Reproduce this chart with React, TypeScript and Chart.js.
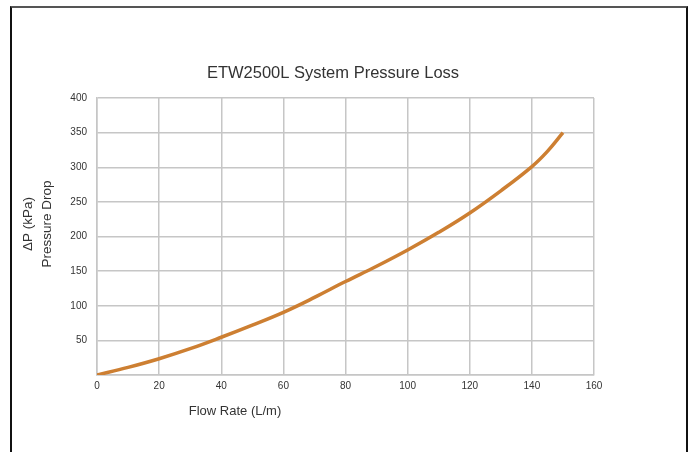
import React, { useEffect, useRef } from "react";
import { Chart, registerables } from "chart.js";

Chart.register(...registerables);

const flowRates = [0, 10, 20, 30, 40, 50, 60, 70, 80, 90, 100, 110, 120, 130, 140, 145, 150];
const pressureDrop = [0, 11, 23.5, 38, 54.5, 72, 90.5, 112, 135, 157, 180.5, 206, 234, 266, 301, 323, 350];
const xTicks = [0, 20, 40, 60, 80, 100, 120, 140, 160];
const yTicks = [0, 50, 100, 150, 200, 250, 300, 350, 400];

const chartTitle = "ETW2500L System Pressure Loss";
const yTitleLines = ["ΔP (kPa)", "Pressure Drop"];
const xTitle = "Flow Rate (L/m)";

const FONT = "'Liberation Sans', Arial, Helvetica, sans-serif";

const textPlugin = {
  id: "customText",
  afterDraw(chart: any) {
    const { ctx, chartArea } = chart;
    ctx.save();
    ctx.fillStyle = "#333";
    ctx.textAlign = "center";
    ctx.textBaseline = "middle";
    // title
    ctx.font = `16.5px ${FONT}`;
    ctx.fillText(chartTitle, chartArea.left + 236, chartArea.top - 25);
    // x title
    ctx.font = `13px ${FONT}`;
    ctx.fillText(xTitle, chartArea.left + 138, chartArea.bottom + 36);
    // y titles (rotated)
    const cy = chartArea.top + 126;
    ctx.font = `13.5px ${FONT}`;
    const xs = [chartArea.left - 69, chartArea.left - 50];
    yTitleLines.forEach((t, i) => {
      ctx.save();
      ctx.translate(xs[i], cy);
      ctx.rotate(-Math.PI / 2);
      ctx.fillText(t, 0, 0);
      ctx.restore();
    });
    ctx.restore();
  },
};

export default function App() {
  const ref = useRef<HTMLCanvasElement | null>(null);
  useEffect(() => {
    if (!ref.current) return;
    const chart = new Chart(ref.current, {
      type: "line",
      data: {
        datasets: [
          {
            data: flowRates.map((x, i) => ({ x, y: pressureDrop[i] })),
            borderColor: "rgb(205,127,50)",
            borderWidth: 3.5,
            pointRadius: 0,
            tension: 0.4,
            fill: false,
          },
        ],
      },
      options: {
        animation: false,
        responsive: false,
        layout: { padding: { left: 0, right: 98, top: 98, bottom: 0 } },
        plugins: { legend: { display: false }, tooltip: { enabled: false }, title: { display: false } },
        scales: {
          x: {
            type: "linear",
            min: 0,
            max: 160,
            afterBuildTicks: (s: any) => {
              s.ticks = xTicks.map((v) => ({ value: v }));
            },
            afterFit: (s: any) => {
              s.height = 77;
            },
            ticks: { color: "#333", font: { size: 10, family: FONT }, padding: 5, maxRotation: 0 },
            grid: { color: "#c6c6c6", lineWidth: 1.5, drawTicks: false },
            border: { color: "#c6c6c6", width: 1.5 },
          },
          y: {
            type: "linear",
            min: 0,
            max: 400,
            afterBuildTicks: (s: any) => {
              s.ticks = yTicks.map((v) => ({ value: v }));
            },
            afterFit: (s: any) => {
              s.width = 97;
            },
            ticks: {
              color: "#333",
              font: { size: 10, family: FONT },
              padding: 10,
              callback: (v: any) => (v === 0 ? "" : String(v)),
            },
            grid: { color: "#c6c6c6", lineWidth: 1.5, drawTicks: false },
            border: { color: "#c6c6c6", width: 1.5 },
          },
        },
      },
      plugins: [textPlugin],
    } as any);
    return () => chart.destroy();
  }, []);

  return (
    <div style={{ position: "fixed", left: 0, top: 0, width: 692, height: 452, background: "#fff", overflow: "hidden" }}>
      <div
        style={{
          position: "absolute",
          left: 10,
          top: 6,
          width: 674,
          height: 470,
          borderTop: "2px solid #555",
          borderLeft: "2px solid #111",
          borderRight: "2px solid #111",
        }}
      />
      <canvas ref={ref} width={692} height={452} style={{ position: "absolute", left: 0, top: 0, width: 692, height: 452 }} />
    </div>
  );
}
